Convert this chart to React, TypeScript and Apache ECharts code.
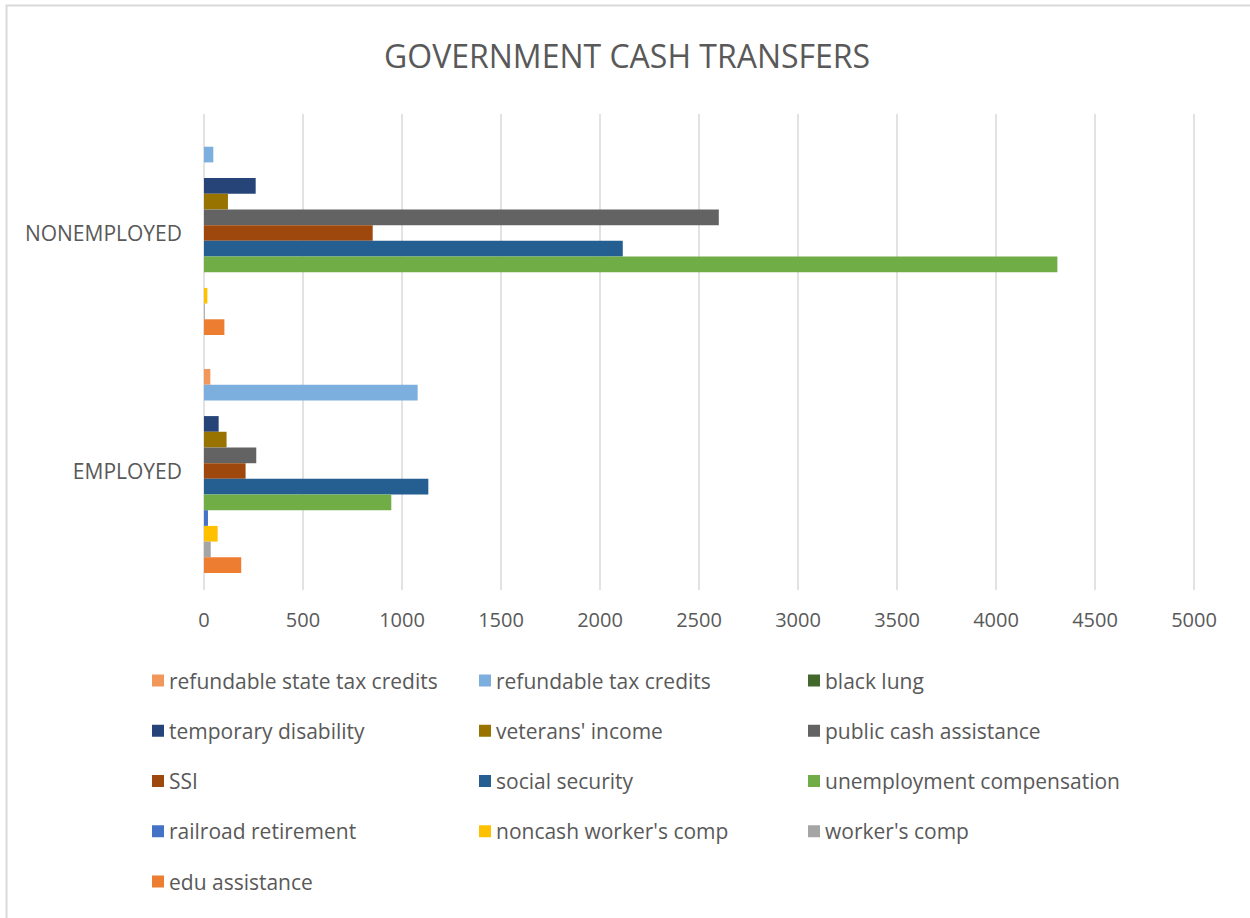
import React, { useEffect, useRef } from "react";
import * as echarts from "echarts";

const categories = ["EMPLOYED", "NONEMPLOYED"];
const xTicks = [0, 500, 1000, 1500, 2000, 2500, 3000, 3500, 4000, 4500, 5000];

// values: [EMPLOYED, NONEMPLOYED]
const refundableStateTaxCredits = [32, 0];
const refundableTaxCredits = [1079, 47];
const blackLung = [0, 0];
const temporaryDisability = [74, 261];
const veteransIncome = [114, 121];
const publicCashAssistance = [264, 2600];
const ssi = [210, 852];
const socialSecurity = [1133, 2115];
const unemploymentCompensation = [946, 4310];
const railroadRetirement = [20, 0];
const noncashWorkersComp = [69, 17];
const workersComp = [34, 4];
const eduAssistance = [188, 103];

// top-to-bottom order within each category (same as legend)
const seriesDefs = [
  { name: "refundable state tax credits", data: refundableStateTaxCredits, color: "#F1975A" },
  { name: "refundable tax credits", data: refundableTaxCredits, color: "#7CAFDD" },
  { name: "black lung", data: blackLung, color: "#43682B" },
  { name: "temporary disability", data: temporaryDisability, color: "#264478" },
  { name: "veterans' income", data: veteransIncome, color: "#997300" },
  { name: "public cash assistance", data: publicCashAssistance, color: "#636363" },
  { name: "SSI", data: ssi, color: "#9E480E" },
  { name: "social security", data: socialSecurity, color: "#255E91" },
  { name: "unemployment compensation", data: unemploymentCompensation, color: "#70AD47" },
  { name: "railroad retirement", data: railroadRetirement, color: "#4472C4" },
  { name: "noncash worker's comp", data: noncashWorkersComp, color: "#FFC000" },
  { name: "worker's comp", data: workersComp, color: "#A5A5A5" },
  { name: "edu assistance", data: eduAssistance, color: "#ED7D31" },
];

const legendCol1 = ["refundable state tax credits", "temporary disability", "SSI", "railroad retirement", "edu assistance"];
const legendCol2 = ["refundable tax credits", "veterans' income", "social security", "noncash worker's comp"];
const legendCol3 = ["black lung", "public cash assistance", "unemployment compensation", "worker's comp"];

const FONT = "'Open Sans', 'Noto Sans', sans-serif";
const TXT = "#595959";

export default function App() {
  const ref = useRef<HTMLDivElement>(null);
  useEffect(() => {
    if (!ref.current) return;
    const chart = echarts.init(ref.current, null, { renderer: "svg" });
    const legendBase = (left: number, data: string[]) => ({
      orient: "vertical",
      left,
      top: 670,
      itemWidth: 12,
      itemHeight: 12,
      itemGap: 29.25,
      icon: "rect",
      data,
      selectedMode: false,
      textStyle: { fontFamily: FONT, fontSize: 21, color: TXT, lineHeight: 21, padding: [0, 0, 0, 0] },
      padding: 0,
    });
    chart.setOption({
      animation: false,
      backgroundColor: "#FFFFFF",
      title: {
        text: "GOVERNMENT CASH TRANSFERS",
        left: 384,
        top: 39,
        padding: 0,
        textStyle: { fontFamily: FONT, fontSize: 32, fontWeight: "normal", color: TXT },
      },
      graphic: [
        {
          type: "rect",
          shape: { x: 6.5, y: 5.5, width: 1300, height: 1000 },
          style: { fill: "none", stroke: "#D9D9D9", lineWidth: 2 },
          silent: true,
        },
      ],
      legend: [legendBase(152, legendCol1), legendBase(479, legendCol2), legendBase(808, legendCol3)],
      grid: { left: 204, right: 56, top: 114, bottom: 328, containLabel: false },
      xAxis: {
        type: "value",
        min: xTicks[0],
        max: xTicks[xTicks.length - 1],
        interval: 500,
        axisLine: { show: false },
        axisTick: { show: false },
        splitLine: { show: true, lineStyle: { color: "#D9D9D9", width: 1.5 } },
        axisLabel: { fontFamily: FONT, fontSize: 20, color: TXT, margin: 19, formatter: (v: number) => String(v) },
      },
      yAxis: {
        type: "category",
        data: categories,
        axisLine: { show: false },
        axisTick: { show: false },
        axisLabel: { fontFamily: FONT, fontSize: 21, color: TXT, margin: 22 },
      },
      series: seriesDefs.map((s) => ({
        type: "bar",
        name: s.name,
        data: s.data,
        barGap: "0%",
        barCategoryGap: "14.3%",
        itemStyle: { color: s.color },
      })),
    });
    return () => chart.dispose();
  }, []);
  return (
    <div
      ref={ref}
      style={{ position: "absolute", left: 0, top: 0, width: 1250, height: 918 }}
    />
  );
}
